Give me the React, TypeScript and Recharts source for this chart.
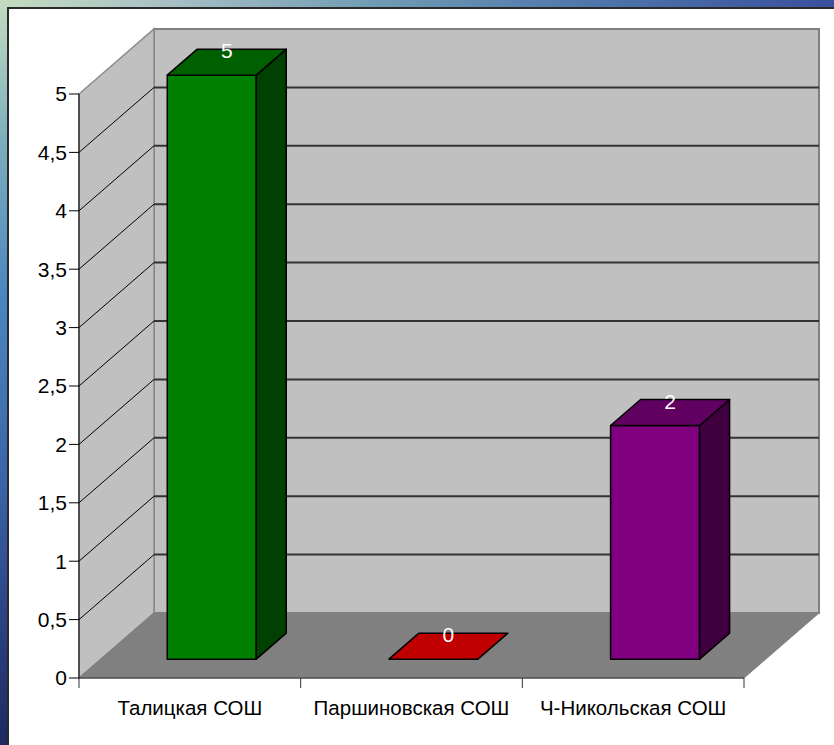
import React from "react";
import {
  Bar,
  BarChart,
  CartesianGrid,
  LabelList,
  ReferenceArea,
  XAxis,
  YAxis,
} from "recharts";

const categories = ["Талицкая СОШ", "Паршиновская СОШ", "Ч-Никольская СОШ"];
const values = [5, 0, 2];
const yTicks = [0, 0.5, 1, 1.5, 2, 2.5, 3, 3.5, 4, 4.5, 5];

const chartData = categories.map((name, i) => ({ name, value: values[i] }));

// front / top / side shades for each bar
const barPalette = [
  { front: "#008000", top: "#006000", side: "#004000" },
  { front: "#e00000", top: "#c00000", side: "#800000" },
  { front: "#800080", top: "#600060", side: "#400040" },
];

const FONT = '"Liberation Sans", Arial, sans-serif';

// depth of the 3D box (walls), and where the bars sit inside it
const DX = 75;
const DY = -65;
const BAR_OFFSET = 0.29;
const BAR_DEPTH = 0.4;

const pts = (list: number[][]) => list.map((p) => p.join(",")).join(" ");

function Walls(props: any) {
  const { x, y, width, height } = props;
  const bottom = y + height;
  const right = x + width;
  return (
    <g>
      <polygon
        points={pts([
          [x + DX, y + DY],
          [right + DX, y + DY],
          [right + DX, bottom + DY],
          [x + DX, bottom + DY],
        ])}
        fill="#c0c0c0"
        stroke="#808080"
        strokeWidth={2}
      />
      <polygon
        points={pts([
          [x, y],
          [x + DX, y + DY],
          [x + DX, bottom + DY],
          [x, bottom],
        ])}
        fill="#c0c0c0"
        stroke="#8c8c8c"
        strokeWidth={1.5}
      />
      <polygon
        points={pts([
          [x, bottom],
          [x + DX, bottom + DY],
          [right + DX, bottom + DY],
          [right, bottom],
        ])}
        fill="#808080"
        stroke="#808080"
        strokeWidth={1}
      />
    </g>
  );
}

function GridLine(props: any) {
  const { x1, y1, x2, y, height, index } = props;
  const isTop = Math.abs(y1 - y) < 0.5;
  const isBottom = Math.abs(y1 - (y + height)) < 0.5;
  if (isBottom || isTop) return <g key={`grid-${index}`} />;
  return (
    <g key={`grid-${index}`}>
      <line
        x1={x1 + DX}
        y1={y1 + DY}
        x2={x2 + DX}
        y2={y1 + DY}
        stroke="#333"
        strokeWidth={2}
      />
      <line x1={x1} y1={y1} x2={x1 + DX} y2={y1 + DY} stroke="#000" strokeWidth={1} />
    </g>
  );
}

function Bar3D(props: any) {
  const { x, y, width, height, index, payload } = props;
  const i = typeof index === "number" ? index : categories.indexOf(payload?.name);
  const c = barPalette[i] ?? barPalette[0];
  const fx = x + DX * BAR_OFFSET;
  const fy = y + DY * BAR_OFFSET;
  const bx = DX * BAR_DEPTH;
  const by = DY * BAR_DEPTH;
  const h = Math.max(0, height);
  const flat = h < 0.5;
  return (
    <g stroke="#000" strokeWidth={1.5} strokeLinejoin="round">
      {!flat && <rect x={fx} y={fy} width={width} height={h} fill={c.front} />}
      {!flat && (
        <polygon
          points={pts([
            [fx + width, fy],
            [fx + width + bx, fy + by],
            [fx + width + bx, fy + h + by],
            [fx + width, fy + h],
          ])}
          fill={c.side}
        />
      )}
      <polygon
        points={pts([
          [fx, fy],
          [fx + bx, fy + by],
          [fx + width + bx, fy + by],
          [fx + width, fy],
        ])}
        fill={c.top}
      />
    </g>
  );
}

function TopLabel(props: any) {
  const { x, y, width, value } = props;
  const cx = x + DX * BAR_OFFSET + width / 2 + (DX * BAR_DEPTH) / 2;
  const cy = y + DY * BAR_OFFSET + (DY * BAR_DEPTH) / 2;
  return (
    <text
      x={cx}
      y={cy - 4}
      textAnchor="middle"
      fill="#fff"
      fontSize={21}
      fontFamily={FONT}
    >
      {value}
    </text>
  );
}

function CategoryTick(props: any) {
  const { x, y, payload, index } = props;
  const half = payload?.offset ?? 0;
  const axisY = y - 22;
  return (
    <g>
      <line x1={x - half} y1={axisY} x2={x - half} y2={axisY + 10} stroke="#333" />
      {index === categories.length - 1 && (
        <line x1={x + half} y1={axisY} x2={x + half} y2={axisY + 10} stroke="#333" />
      )}
      <text
        x={x}
        y={y}
        dy="0.72em"
        textAnchor="middle"
        fill="#000"
        fontSize={20.5}
        fontFamily={FONT}
      >
        {payload.value}
      </text>
    </g>
  );
}

export default function App() {
  return (
    <div style={{ position: "absolute", left: 0, top: 0, width: 834, height: 745, overflow: "hidden" }}>
      <div
        style={{
          position: "absolute",
          left: 0,
          top: 0,
          width: 834,
          height: 9,
          background: "linear-gradient(to right, #c4dcc0 0%, #a8c0c4 20%, #6f9cb4 45%, #4f78ac 70%, #3a4f9c 100%)",
        }}
      />
      <div
        style={{
          position: "absolute",
          left: 0,
          top: 0,
          width: 9,
          height: 745,
          background: "linear-gradient(to bottom, #c4dcc0 0%, #7fb0bc 18%, #4a86c0 40%, #3a64a8 65%, #2a3f80 85%, #1e2a60 100%)",
        }}
      />
      <div
        style={{
          position: "absolute",
          left: 7,
          top: 7,
          width: 840,
          height: 750,
          background: "#fff",
          borderLeft: "2px solid #2a2a2a",
          borderTop: "2px solid #2a2a2a",
        }}
      />
      <div style={{ position: "absolute", left: 0, top: 0 }}>
        <BarChart
          width={834}
          height={745}
          data={chartData}
          margin={{ top: 94, right: 90, bottom: 27, left: 19 }}
          barCategoryGap="30%"
        >
          <ReferenceArea
            y1={0}
            y2={5}
            zIndex={-200}
            shape={(p: any) => <Walls {...p} />}
          />
          <CartesianGrid
            zIndex={-100}
            vertical={false}
            horizontal={(p: any) => <GridLine {...p} />}
          />
          <XAxis
            dataKey="name"
            height={40}
            interval={0}
            tickSize={10}
            tickMargin={12}
            tickLine={false}
            axisLine={{ stroke: "#333" }}
            tick={<CategoryTick />}
          />
          <YAxis
            width={60}
            domain={[0, 5]}
            ticks={yTicks}
            interval={0}
            tickSize={10}
            tickMargin={2}
            axisLine={{ stroke: "#000" }}
            tickLine={{ stroke: "#000" }}
            tick={{ fontSize: 21, fill: "#000", fontFamily: FONT }}
            tickFormatter={(v: number) => String(v).replace(".", ",")}
          />
          <Bar dataKey="value" isAnimationActive={false} shape={(p: any) => <Bar3D {...p} />}>
            <LabelList dataKey="value" content={(p: any) => <TopLabel {...p} />} />
          </Bar>
        </BarChart>
      </div>
    </div>
  );
}
